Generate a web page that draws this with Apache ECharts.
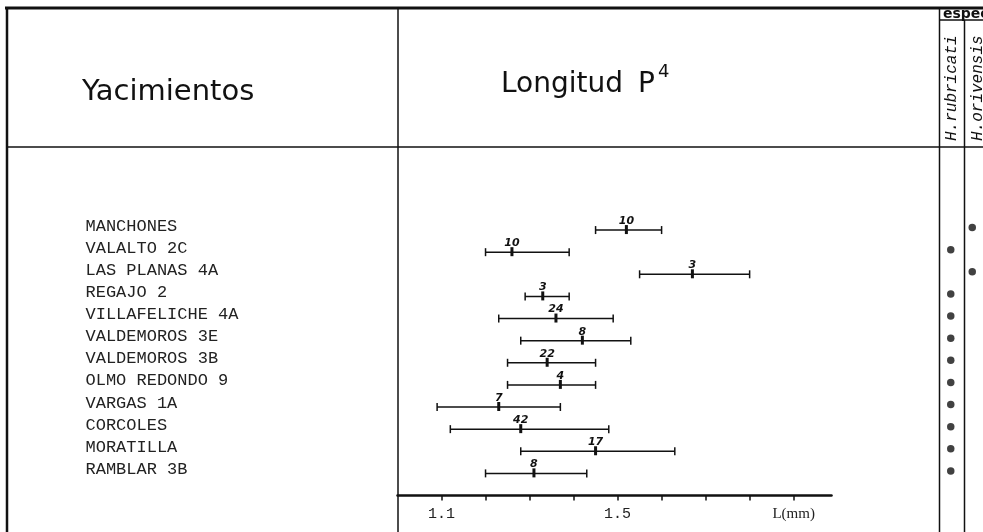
<!DOCTYPE html>
<html>
<head>
<meta charset="utf-8">
<script src="https://cdn.jsdelivr.net/npm/echarts@6.0.0/dist/echarts.min.js"></script>
<style>
html, body { margin: 0; padding: 0; background: #fff; }
#chart { width: 983px; height: 532px; }
</style>
</head>
<body>
<div id="chart"></div>
<script>
// yacimientos (filas)
var sites = ['MANCHONES', 'VALALTO 2C', 'LAS PLANAS 4A', 'REGAJO 2', 'VILLAFELICHE 4A', 'VALDEMOROS 3E',
    'VALDEMOROS 3B', 'OLMO REDONDO 9', 'VARGAS 1A', 'CORCOLES', 'MORATILLA', 'RAMBLAR 3B'];
// longitud P4 (mm): minimo, media, maximo, n
var minL = [1.45, 1.20, 1.55, 1.29, 1.23, 1.28, 1.25, 1.25, 1.09, 1.12, 1.28, 1.20];
var meanL = [1.52, 1.26, 1.67, 1.33, 1.36, 1.42, 1.34, 1.37, 1.23, 1.28, 1.45, 1.31];
var maxL = [1.60, 1.39, 1.80, 1.39, 1.49, 1.53, 1.45, 1.45, 1.37, 1.48, 1.63, 1.43];
var nCount = [10, 10, 3, 3, 24, 8, 22, 4, 7, 42, 17, 8];
// especie: 0 = H.rubricati, 1 = H.orivensis
var speciesNames = ['H.rubricati', 'H.orivensis'];
var siteSpecies = [1, 0, 1, 0, 0, 0, 0, 0, 0, 0, 0, 0];
// marcas del eje x
var xTicks = [1.1, 1.2, 1.3, 1.4, 1.5, 1.6, 1.7, 1.8, 1.9];
var xLabels = [1.1, 1.5, 1.9];

var ink = '#111';
var rows = sites.map(function (s, i) { return i; });

var barData = sites.map(function (s, i) {
    return [i, minL[i], meanL[i], maxL[i], nCount[i]];
});
var dotData = sites.map(function (s, i) {
    return [siteSpecies[i], i];
});

function renderBar(params, api) {
    var row = api.value(0);
    var lo = api.coord([api.value(1), row]);
    var mid = api.coord([api.value(2), row]);
    var hi = api.coord([api.value(3), row]);
    var y = lo[1];
    var st = {stroke: ink, lineWidth: 1.5};
    return {
        type: 'group',
        children: [
            {type: 'line', shape: {x1: lo[0], y1: y, x2: hi[0], y2: y}, style: st},
            {type: 'line', shape: {x1: lo[0], y1: y - 4, x2: lo[0], y2: y + 4}, style: st},
            {type: 'line', shape: {x1: hi[0], y1: y - 4, x2: hi[0], y2: y + 4}, style: st},
            {type: 'line', shape: {x1: mid[0], y1: y - 5, x2: mid[0], y2: y + 4}, style: {stroke: ink, lineWidth: 3}},
            {
                type: 'text', x: mid[0], y: y - 9,
                style: {
                    text: String(api.value(4)), fill: ink, align: 'center', verticalAlign: 'middle',
                    font: 'italic bold 11px "DejaVu Sans"'
                }
            }
        ]
    };
}

function vline(x, y1, y2, w) {
    return {type: 'line', shape: {x1: x, y1: y1, x2: x, y2: y2}, style: {stroke: ink, lineWidth: w || 1.5}, silent: true};
}
function hline(y, x1, x2, w) {
    return {type: 'line', shape: {x1: x1, y1: y, x2: x2, y2: y}, style: {stroke: ink, lineWidth: w || 1.5}, silent: true};
}

var chart = echarts.init(document.getElementById('chart'));
var option = {
    backgroundColor: '#fff',
    animation: false,
    grid: [
        {left: 397.5, top: 163.7, width: 434, height: 331.8},
        {left: 940, top: 161.2, width: 46, height: 331.8}
    ],
    xAxis: [{
        type: 'value', gridIndex: 0, min: 1.0, max: 1.986,
        axisLine: {show: true, onZero: false, lineStyle: {color: ink, width: 2.5}},
        axisTick: {show: true, customValues: xTicks, length: 5, lineStyle: {color: ink, width: 1.5}},
        axisLabel: {
            customValues: xLabels, margin: 11, color: '#222',
            fontFamily: 'Liberation Mono', fontSize: 15,
            formatter: function (v) {
                return Math.abs(v - 1.9) < 1e-6 ? '{u|L(mm)}' : v.toFixed(1);
            },
            rich: {u: {fontFamily: 'Liberation Serif', fontSize: 15, color: '#222'}}
        },
        splitLine: {show: false}
    }, {
        type: 'value', gridIndex: 1, min: -0.5, max: 1.5, show: false
    }],
    yAxis: [{
        type: 'value', gridIndex: 0, min: -3, max: 12, inverse: true,
        axisLine: {show: false}, axisTick: {show: false}, splitLine: {show: false},
        axisLabel: {
            customValues: rows, align: 'left', margin: 312, color: '#222',
            fontFamily: 'Liberation Mono', fontSize: 17,
            verticalAlign: 'bottom', lineHeight: 8,
            formatter: function (v) { return sites[Math.round(v)]; }
        }
    }, {
        type: 'value', gridIndex: 1, min: -3, max: 12, inverse: true, show: false
    }],
    series: [{
        type: 'custom', xAxisIndex: 0, yAxisIndex: 0,
        renderItem: renderBar, data: barData, clip: false
    }, {
        type: 'scatter', xAxisIndex: 1, yAxisIndex: 1,
        symbol: 'circle', symbolSize: 7.5,
        itemStyle: {color: ink}, data: dotData
    }],
    graphic: [
        hline(8, 5, 983, 3),
        hline(147, 7, 983, 1.5),
        hline(20, 939, 983, 1.5),
        vline(7, 7, 532, 2.5),
        vline(398, 8, 532, 1.5),
        vline(939.5, 8, 532, 1.5),
        vline(964.5, 20, 532, 1.5),
        {type: 'text', x: 82, y: 92, silent: true,
            style: {text: 'Yacimientos', font: '29px "DejaVu Sans"', fill: ink, verticalAlign: 'middle'}},
        {type: 'text', x: 501, y: 85, silent: true,
            style: {text: 'Longitud', font: '28px "DejaVu Sans"', fill: ink, verticalAlign: 'middle'}},
        {type: 'text', x: 638, y: 85, silent: true,
            style: {text: 'P', font: '28px "DejaVu Sans"', fill: ink, verticalAlign: 'middle'}},
        {type: 'text', x: 658, y: 72, silent: true,
            style: {text: '4', font: '18px "DejaVu Sans"', fill: ink, verticalAlign: 'middle'}},
        {type: 'text', x: 943, y: 14, silent: true,
            style: {text: 'especie', font: 'bold 14px "DejaVu Sans"', fill: ink, verticalAlign: 'middle'}},
        {type: 'text', x: 952, y: 141, rotation: Math.PI / 2, silent: true,
            style: {text: speciesNames[0], font: 'italic 16px "Liberation Mono"', fill: ink, align: 'left', verticalAlign: 'middle'}},
        {type: 'text', x: 978, y: 141, rotation: Math.PI / 2, silent: true,
            style: {text: speciesNames[1], font: 'italic 16px "Liberation Mono"', fill: ink, align: 'left', verticalAlign: 'middle'}}
    ]
};
chart.setOption(option);
</script>
</body>
</html>
